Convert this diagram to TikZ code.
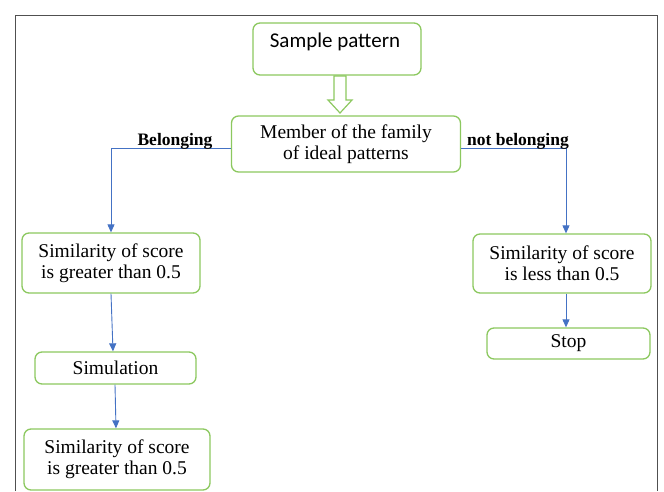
\documentclass[tikz,border=0pt]{standalone}
\usepackage{fontspec}
\setmainfont{Liberation Serif}
\newfontfamily\calib{Carlito}
\usetikzlibrary{arrows.meta}
\definecolor{gbord}{RGB}{140,200,95}
\definecolor{lblue}{RGB}{68,114,196}
\definecolor{frame}{RGB}{80,80,80}
\tikzset{
  gbox/.style={draw=gbord, line width=1.3pt, rounded corners=7pt, fill=white, align=center, inner sep=2pt, font=\fontsize{19.5}{21}\selectfont},
  conn/.style={draw=lblue, line width=0.9pt, -{Triangle[length=8pt,width=7pt]}},
  lab/.style={font=\bfseries\fontsize{17.5}{19}\selectfont, inner sep=0pt}
}
\begin{document}
\begin{tikzpicture}[x=1pt,y=-1pt]
\useasboundingbox (0,0) rectangle (664,491);
\draw[frame, line width=0.8pt] (15,491) -- (15,15) -- (657,15) -- (657,491);

\node[gbox, minimum width=168pt, minimum height=52pt] (sample) at (337,49) {};
\node[font=\calib\fontsize{21}{24}\selectfont, inner sep=0pt] (sampletxt) at (335,42) {Sample pattern};

\node[gbox, minimum width=229pt, minimum height=56pt] (member) at (346,144) {Member of the family\\of ideal patterns};

\node[gbox, minimum width=178pt, minimum height=60pt] (left1) at (111,263) {Similarity of score\\is greater than 0.5};
\node[gbox, minimum width=161pt, minimum height=32pt] (sim) at (115.5,368) {Simulation};
\node[gbox, minimum width=186pt, minimum height=61pt] (left2) at (117,459.5) {Similarity of score\\is greater than 0.5};

\node[gbox, minimum width=178pt, minimum height=59pt] (right1) at (562,263.5) {Similarity of score\\is less than 0.5};
\node[gbox, minimum width=163pt, minimum height=31pt] (stop) at (568.5,343.5) {Stop};

% hollow arrow
\draw[gbord, line width=1.2pt, fill=white] (334,76) -- (346,76) -- (346,100) -- (352,100) -- (340,113) -- (328,100) -- (334,100) -- cycle;

\coordinate (lturn) at (111,148);
\coordinate (rturn) at (566,148);
\draw[conn] ([yshift=-4pt]member.west) -- (lturn) -- (left1.north);
\draw[conn] ([yshift=-4pt]member.east) -- (rturn) -- (rturn |- right1.north);
\draw[conn] (left1.south) -- ([xshift=-2.5pt]sim.north);
\draw[conn] ([xshift=-0.5pt]sim.south) -- ([xshift=-1pt]left2.north);
\draw[conn] (rturn |- right1.south) -- (rturn |- stop.north);

\node[lab] (belong) at (175,141) {Belonging};
\node[lab] (notbelong) at (518,141) {not belonging};
\end{tikzpicture}
\end{document}
